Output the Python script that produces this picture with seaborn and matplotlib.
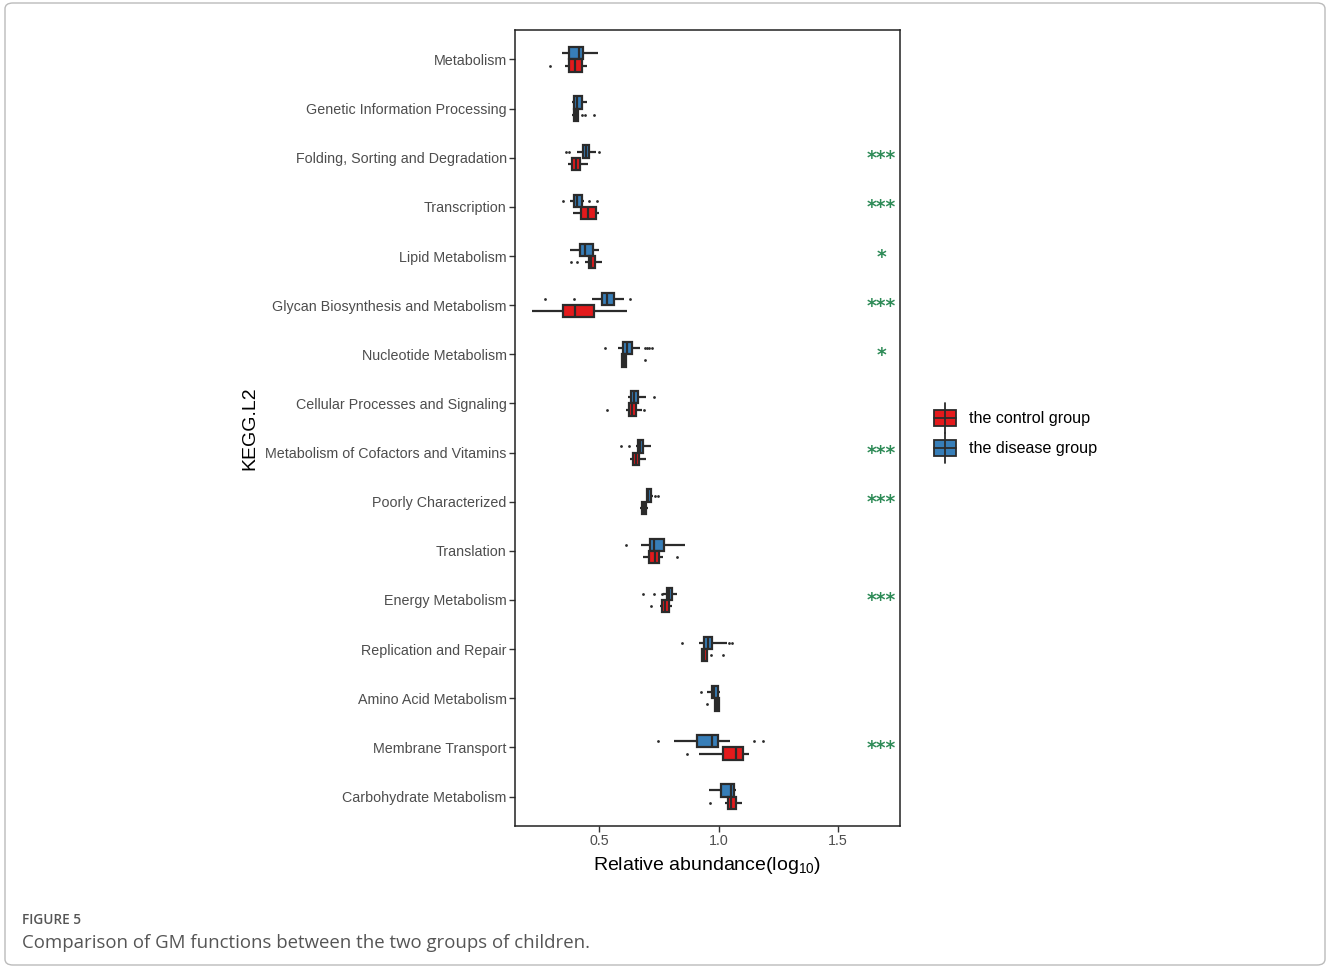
import numpy as np
import pandas as pd
import seaborn as sns
import matplotlib
matplotlib.use("Agg")
import matplotlib.pyplot as plt
from matplotlib.patches import Rectangle, FancyBboxPatch
from matplotlib.lines import Line2D

# ---------------- data ----------------
categories = [
    "Metabolism", "Genetic Information Processing", "Folding, Sorting and Degradation",
    "Transcription", "Lipid Metabolism", "Glycan Biosynthesis and Metabolism",
    "Nucleotide Metabolism", "Cellular Processes and Signaling",
    "Metabolism of Cofactors and Vitamins", "Poorly Characterized", "Translation",
    "Energy Metabolism", "Replication and Repair", "Amino Acid Metabolism",
    "Membrane Transport", "Carbohydrate Metabolism",
]
groups = ["the disease group", "the control group"]
legend_order = ["the control group", "the disease group"]

disease_min = [0.346, 0.388, 0.409, 0.379, 0.381, 0.471, 0.578, 0.622, 0.655, 0.695, 0.674, 0.769, 0.918, 0.953, 0.815, 0.960]
disease_q1  = [0.376, 0.397, 0.432, 0.395, 0.420, 0.514, 0.602, 0.634, 0.662, 0.700, 0.713, 0.786, 0.939, 0.971, 0.911, 1.010]
disease_med = [0.415, 0.409, 0.446, 0.409, 0.440, 0.535, 0.616, 0.648, 0.672, 0.707, 0.730, 0.794, 0.958, 0.981, 0.972, 1.051]
disease_q3  = [0.432, 0.430, 0.458, 0.428, 0.474, 0.564, 0.637, 0.664, 0.683, 0.716, 0.772, 0.805, 0.974, 0.996, 0.997, 1.065]
disease_max = [0.495, 0.449, 0.487, 0.437, 0.499, 0.605, 0.672, 0.695, 0.718, 0.725, 0.861, 0.828, 1.034, 1.006, 1.048, 1.072]

control_min = [0.358, 0.386, 0.369, 0.392, 0.441, 0.221, 0.592, 0.613, 0.630, 0.672, 0.685, 0.755, 0.926, 0.981, 0.920, 1.029]
control_q1  = [0.376, 0.395, 0.386, 0.425, 0.458, 0.348, 0.595, 0.627, 0.644, 0.679, 0.709, 0.762, 0.932, 0.985, 1.020, 1.038]
control_med = [0.400, 0.404, 0.402, 0.455, 0.466, 0.400, 0.605, 0.638, 0.655, 0.688, 0.734, 0.778, 0.939, 0.995, 1.073, 1.053]
control_q3  = [0.428, 0.413, 0.420, 0.486, 0.483, 0.479, 0.613, 0.655, 0.669, 0.697, 0.752, 0.794, 0.950, 1.001, 1.101, 1.072]
control_max = [0.449, 0.415, 0.455, 0.501, 0.511, 0.616, 0.616, 0.679, 0.695, 0.704, 0.766, 0.805, 0.958, 1.006, 1.126, 1.097]

disease_outliers = [
    [], [], [0.363, 0.374, 0.499], [0.349, 0.459, 0.493], [], [0.274, 0.397, 0.630],
    [0.525, 0.692, 0.700, 0.710, 0.720], [0.730], [0.593, 0.627], [0.736, 0.748],
    [0.613], [0.683, 0.730, 0.764], [0.846, 1.044, 1.055], [0.926], [0.746, 1.149, 1.188], [],
]
control_outliers = [
    [0.295], [0.429, 0.443, 0.478], [], [], [0.383, 0.407], [],
    [0.692], [0.535, 0.688], [], [], [0.825], [0.716], [0.967, 1.020], [0.953], [0.869], [0.964],
]
significance = ["", "", "***", "***", "*", "***", "*", "", "***", "***", "", "***", "", "", "***", ""]

palette = {"the control group": "#E41A1C", "the disease group": "#377EB8"}

# ---------------- long table for seaborn ----------------
rows = []
stats = {
    "the disease group": (disease_min, disease_q1, disease_med, disease_q3, disease_max),
    "the control group": (control_min, control_q1, control_med, control_q3, control_max),
}
for g, arrs in stats.items():
    for i, c in enumerate(categories):
        for a in arrs:
            rows.append({"category": c, "group": g, "value": a[i]})
df = pd.DataFrame(rows)

# ---------------- figure ----------------
sns.set_theme(style="white")
plt.rcParams["font.family"] = ["Liberation Sans", "DejaVu Sans"]
plt.rcParams["mathtext.default"] = "regular"

W, H = 1328, 967
fig = plt.figure(figsize=(W / 100, H / 100), dpi=100)
fig.patch.set_facecolor("white")

ax_l, ax_r, ax_t, ax_b = 515, 900, 30, 826
ax = fig.add_axes([ax_l / W, 1 - ax_b / H, (ax_r - ax_l) / W, (ax_b - ax_t) / H])

box_width = 0.5
sns.boxplot(
    data=df, x="value", y="category", hue="group", order=categories,
    hue_order=groups, palette=palette, saturation=1, width=box_width, whis=(0, 100),
    linewidth=1.6, linecolor="#2B2B2B", fliersize=0, ax=ax, legend=False,
    showcaps=False,
)

# outliers
offsets = {"the disease group": -box_width / 4, "the control group": box_width / 4}
for g, outl in (("the disease group", disease_outliers), ("the control group", control_outliers)):
    xs, ys = [], []
    for i, vals in enumerate(outl):
        for v in vals:
            xs.append(v)
            ys.append(i + offsets[g])
    ax.scatter(xs, ys, s=4, color="#2B2B2B", zorder=3, linewidths=0)

# significance stars
for i, s in enumerate(significance):
    if s:
        ax.text(1.68, i + 0.02, s, color="#2E8B57", fontsize=13.5, fontweight="bold",
                family=["DejaVu Sans"], ha="center", va="center")

ax.set_xlim(0.149, 1.759)
ax.set_ylim(len(categories) - 0.4, -0.6)
ax.set_xticks([0.5, 1.0, 1.5])
ax.set_xticklabels(["0.5", "1.0", "1.5"])
ax.tick_params(axis="both", which="both", length=4, width=1, color="#333333",
               labelcolor="#4D4D4D", labelsize=10.3, left=True, bottom=True, pad=2)
for sp in ax.spines.values():
    sp.set_color("#222222")
    sp.set_linewidth(1.1)
ax.set_xlabel(r"Relative abundance(log$_{10}$)", fontsize=14, color="black", labelpad=5)
ax.set_ylabel("")
fig.text(250 / W, 1 - 428 / H, "KEGG.L2", rotation=90, fontsize=14, color="black",
         ha="center", va="center")

# legend (boxplot-style keys)
for label, yc in (("the control group", 418), ("the disease group", 448)):
    xc = 945
    fig.add_artist(Line2D([xc / W, xc / W], [1 - (yc - 15) / H, 1 - (yc + 15) / H],
                          transform=fig.transFigure, color="#2B2B2B", lw=1.3))
    fig.add_artist(Rectangle(((xc - 11) / W, 1 - (yc + 8) / H), 22 / W, 16 / H,
                             transform=fig.transFigure, facecolor=palette[label],
                             edgecolor="#2B2B2B", lw=1.3))
    fig.add_artist(Line2D([(xc - 11) / W, (xc + 11) / W], [1 - yc / H, 1 - yc / H],
                          transform=fig.transFigure, color="#2B2B2B", lw=1.3))
    fig.text(969 / W, 1 - yc / H, label, fontsize=11.6, color="black", ha="left", va="center")

# outer frame and caption
fig.add_artist(FancyBboxPatch((5 / W, 2 / H), 1320 / W, 962 / H,
                              boxstyle="round,pad=0,rounding_size=0.006",
                              transform=fig.transFigure, facecolor="none",
                              edgecolor="#BBBBBB", lw=1.0))
fig.text(22 / W, 1 - 920 / H, "FIGURE 5", fontsize=9.8, color="#555555",
         family=["Open Sans", "DejaVu Sans"], fontweight="semibold", ha="left", va="center")
fig.text(22 / W, 1 - 943 / H, "Comparison of GM functions between the two groups of children.",
         fontsize=13.4, color="#555555", family=["Open Sans", "DejaVu Sans"],
         ha="left", va="center")

fig.savefig("out.png", dpi=100, facecolor="white")
